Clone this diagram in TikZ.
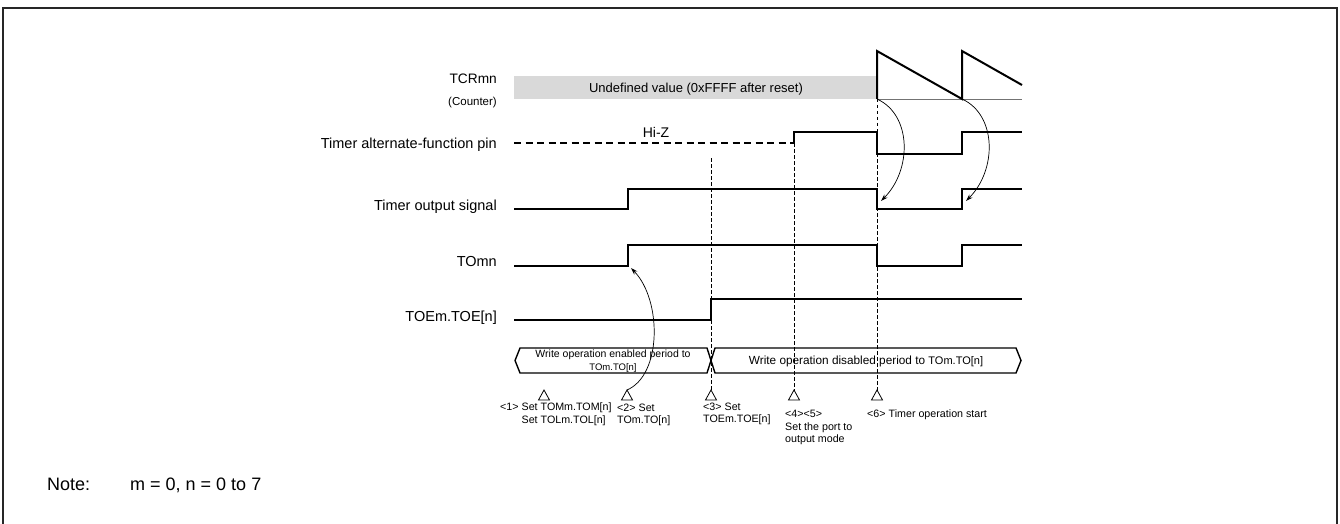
\documentclass[tikz,border=0pt]{standalone}
\usepackage{fontspec}
\setmainfont{Liberation Sans}
\usetikzlibrary{arrows.meta}
\begin{document}
\begin{tikzpicture}[x=1pt,y=-1pt,
  wave/.style={line width=2pt, line join=miter, line cap=butt},
  guide/.style={line width=0.8pt, dash pattern=on 3.5pt off 2.5pt},
  hiz/.style={line width=1.6pt, dash pattern=on 7pt off 4.5pt},
  lbl/.style={anchor=base east, inner sep=0pt, font=\fontsize{14.5}{17}\selectfont},
  note/.style={anchor=base west, inner sep=0pt, font=\fontsize{18}{21}\selectfont},
  small/.style={anchor=north west, inner sep=0pt, align=left, font=\fontsize{10.7}{12.6}\selectfont},
  tri/.style={draw, line width=0.8pt, line join=miter},
  bus/.style={draw, line width=1.4pt, line join=miter},
  curv/.style={line width=0.7pt, -{Stealth[length=7pt,width=4.5pt]}},
]
\useasboundingbox (0,0) rectangle (1340,524);
% frame
\draw[line width=1.2pt, black!85] (3,524) -- (3,8) -- (1337,8) -- (1337,524);

% signal labels
\node[lbl, font=\fontsize{13.7}{16}\selectfont] (lTCR) at (497,84) {TCRmn};
\node[lbl, font=\fontsize{11.5}{14}\selectfont] (lCnt) at (497,105.5) {(Counter)};
\node[lbl] (lPin) at (497,148.5) {Timer alternate-function pin};
\node[lbl] (lOut) at (497,210.5) {Timer output signal};
\node[lbl] (lTO) at (497,266.5) {TOmn};
\node[lbl] (lTOE) at (497,321.5) {TOEm.TOE[n]};

% counter
\node[fill=black!15, anchor=north west, inner sep=0pt, minimum width=363pt, minimum height=23pt] (undef) at (514,76) {};
\node[anchor=base, inner sep=0pt, font=\fontsize{13}{15}\selectfont] (undeftext) at (696,92.5) {Undefined value (0xFFFF after reset)};
\draw[line width=0.8pt, black!55] (877,99) coordinate (b0) -- (1022,99) coordinate (b1);
\coordinate (s1) at (877,99);
\coordinate (s2) at (962,99);
\draw[wave] (s1) -- (877,51) -- (s2) -- (962,51) -- (1022,85);

% guide lines
\draw[guide] (711,158) -- (711,391);
\draw[guide] (794,143) -- (794,391);
\draw[guide] (877,99) -- (877,391);

% timer alternate-function pin
\draw[hiz] (514,143) -- (794,143);
\draw[wave] (794,143) -- (794,132) -- (877,132) -- (877,154) -- (962,154) -- (962,132) -- (1022,132);
\node[anchor=base, inner sep=0pt, font=\fontsize{14}{16}\selectfont] (hiz) at (656,138) {Hi-Z};

% timer output signal
\draw[wave] (514,209) -- (628,209) -- (628,189) -- (877,189) -- (877,209) -- (962,209) -- (962,189) -- (1022,189);
\coordinate (o1) at (881,201);
\coordinate (o2) at (966,201);

% TOmn
\draw[wave] (514,266) -- (628,266) -- (628,245) -- (877,245) -- (877,266) -- (962,266) -- (962,245) -- (1022,245);
\coordinate (to1) at (631,268);

% TOE
\draw[wave] (514,320) -- (711,320) -- (711,299) -- (1022,299);

% bus bar
\draw[bus] (515,360.5) -- (520,348) -- (707,348) -- (715,373) -- (1016,373) -- (1021,360.5) -- (1016,348) -- (715,348) -- (707,373) -- (520,373) -- cycle;
\node[align=center, inner sep=0pt, font=\fontsize{10.5}{13.5}\selectfont] (en) at (613,361) {Write operation enabled period to\\{\fontsize{9.5}{11}\selectfont TOm.TO[n]}};
\node[inner sep=0pt, font=\fontsize{11.8}{14}\selectfont] (dis) at (866,361) {Write operation disabled period to {\fontsize{11}{13}\selectfont TOm.TO[n]}};

% triangles
\foreach \n/\x in {1/544,2/627,3/711,4/794,6/877}{
  \coordinate (t\n) at (\x,390);
  \draw[tri] (t\n) -- ++(5.5,10) -- ++(-11,0) -- cycle;
}

% step labels
\node[small] (st1) at (500,402.5) {<1> Set TOMm.TOM[n]\\\hphantom{<1> }Set TOLm.TOL[n]};
\node[small] (st2) at (617,403.5) {<2> Set\\TOm.TO[n]};
\node[small] (st3) at (703,402.5) {<3> Set\\TOEm.TOE[n]};
\node[small] (st4) at (785,410) {<4><5>\\Set the port to\\output mode};
\node[small] (st6) at (867,410) {<6> Timer operation start};

% curved arrows
\draw[curv] (s1) .. controls (912,115) and (912,170) .. (o1);
\draw[curv] (s2) .. controls (997,115) and (997,170) .. (o2);
\draw[curv] (t2) .. controls (662,375) and (662,300) .. (to1);

% note
\node[note] (note) at (47,490) {Note:};
\node[note] (notetext) at (130,490) {m = 0, n = 0 to 7};
\end{tikzpicture}
\end{document}
